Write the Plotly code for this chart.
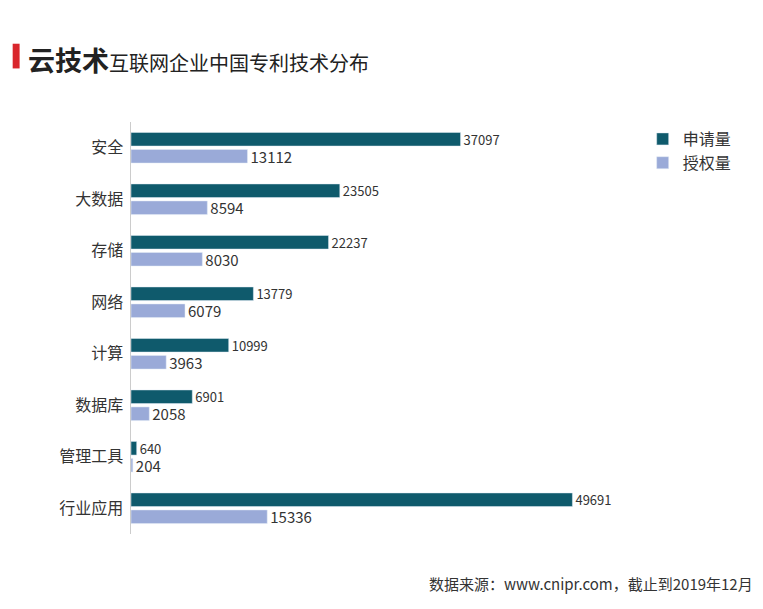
import plotly.graph_objects as go

categories = ["安全", "大数据", "存储", "网络", "计算", "数据库", "管理工具", "行业应用"]
applied = [37097, 23505, 22237, 13779, 10999, 6901, 640, 49691]
granted = [13112, 8594, 8030, 6079, 3963, 2058, 204, 15336]

font = "Noto Sans CJK SC"
fig = go.Figure()
fig.add_trace(go.Bar(y=categories, x=applied, name="申请量", orientation="h",
                     marker_color="#0f5a6c", text=applied, textposition="outside",
                     constraintext="none",
                     textfont=dict(size=13, color="#333"), cliponaxis=False))
fig.add_trace(go.Bar(y=categories, x=granted, name="授权量", orientation="h",
                     marker_color="#9aaad8", text=granted, textposition="outside",
                     constraintext="none",
                     textfont=dict(size=15, color="#333"), cliponaxis=False))

fig.update_layout(
    width=763, height=609,
    margin=dict(l=123, r=107, t=114, b=83),
    paper_bgcolor="white", plot_bgcolor="white",
    font=dict(family=font, color="#333"),
    barmode="group", bargap=0.34, bargroupgap=0.2,
    xaxis=dict(range=[0, 60000], visible=False),
    yaxis=dict(autorange="reversed", showline=True, linecolor="#ccc",
               ticks="", tickfont=dict(size=16, color="#333"), ticksuffix=" "),
    legend=dict(x=0.96, y=1.0, xanchor="left", yanchor="top",
                font=dict(size=16), itemwidth=30, tracegroupgap=8),
    shapes=[dict(type="rect", xref="paper", yref="paper", x0=-0.222, x1=-0.209,
                 y0=1.13, y1=1.19, fillcolor="#d9262c", line_width=0)],
    annotations=[
        dict(text="<b>云技术</b><span style='font-size:20px'>互联网企业中国专利技术分布</span>",
             xref="paper", yref="paper", x=-0.197, y=1.205, xanchor="left", yanchor="top",
             showarrow=False, font=dict(size=27, color="#222")),
        dict(text="数据来源：www.cnipr.com，截止到2019年12月",
             xref="paper", yref="paper", x=1.17, y=-0.09, xanchor="right", yanchor="top",
             showarrow=False, font=dict(size=15, color="#333")),
    ],
)
fig.write_html("out.html")
